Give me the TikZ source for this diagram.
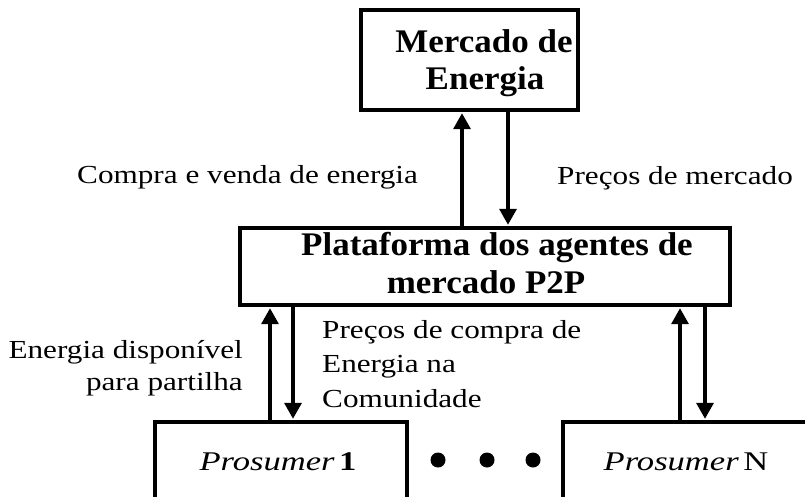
\documentclass[tikz,border=0pt]{standalone}
\usepackage{fontspec}
\setmainfont{Liberation Serif}[FakeStretch=1.2]
\newfontfamily\titlefont{Liberation Serif}[FakeStretch=1.06]
\newfontfamily\prosfont{Liberation Serif}[FakeStretch=1.28]
\usetikzlibrary{arrows.meta}
\begin{document}
\begin{tikzpicture}[x=1pt,y=-1pt,
  box/.style={draw=black, line width=3.4pt, inner sep=0pt, fill=white},
  btitle/.style={font=\titlefont\fontsize{33}{40}\selectfont\bfseries, align=center, inner sep=0pt},
  lbl/.style={font=\fontsize{26}{30}\selectfont, inner sep=0pt},
  ptxt/.style={font=\prosfont\fontsize{27}{32}\selectfont, inner sep=0pt},
  arr/.style={line width=3.4pt, -{Triangle[length=16pt,width=17pt]}, shorten >=1.5pt},
  dot/.style={circle, fill=black, minimum size=15pt, inner sep=0pt}]
\useasboundingbox (0,0) rectangle (805,497);
\clip (0,0) rectangle (805,497);
\fill[white] (0,0) rectangle (805,497);
% boxes
\node[box, minimum width=217pt, minimum height=100pt] (market) at (469.5,60) {};
\node[box, minimum width=490pt, minimum height=77pt] (mid) at (485,266.5) {};
\node[box, minimum width=252pt, minimum height=120pt] (p1) at (281,482) {};
\node[box, minimum width=287pt, minimum height=120pt] (pn) at (706.5,482) {};
% box texts
\node[btitle, anchor=base] (mt1) at (484,53) {Mercado de};
\node[btitle, anchor=base] (mt2) at (485,90) {Energia};
\node[btitle, anchor=base] (pt1) at (497,255) {Plataforma dos agentes de};
\node[btitle, anchor=base] (pt2) at (486,293) {mercado P2P};
\node[ptxt, anchor=base] (p1t) at (278,470) {\textit{Prosumer}\,\textbf{1}};
\node[ptxt, anchor=base] (pnt) at (686,470) {\textit{Prosumer}\,N};
% dots
\node[dot] (d1) at (438,460) {};
\node[dot] (d2) at (487,460) {};
\node[dot] (d3) at (533,460) {};
% arrow columns
\coordinate (ca) at (462,0);
\coordinate (cb) at (508,0);
\coordinate (cc) at (270,0);
\coordinate (cd) at (293,0);
\coordinate (ce) at (680,0);
\coordinate (cf) at (705,0);
\draw[arr] (ca |- mid.north) -- (ca |- market.south);
\draw[arr] (cb |- market.south) -- (cb |- mid.north);
\draw[arr] (cc |- p1.north) -- (cc |- mid.south);
\draw[arr] (cd |- mid.south) -- (cd |- p1.north);
\draw[arr] (ce |- pn.north) -- (ce |- mid.south);
\draw[arr] (cf |- mid.south) -- (cf |- pn.north);
% labels
\node[lbl, anchor=base west] (l1) at (77,183) {Compra e venda de energia};
\node[lbl, anchor=base west] (l2) at (557,185) {Preços de mercado};
\node[lbl, anchor=base east] (l3) at (243,358) {Energia disponível};
\node[lbl, anchor=base east] (l4) at (243,390) {para partilha};
\node[lbl, anchor=base west] (l5) at (322,338) {Preços de compra de};
\node[lbl, anchor=base west] (l6) at (322,372) {Energia na};
\node[lbl, anchor=base west] (l7) at (322,407) {Comunidade};
\end{tikzpicture}
\end{document}
